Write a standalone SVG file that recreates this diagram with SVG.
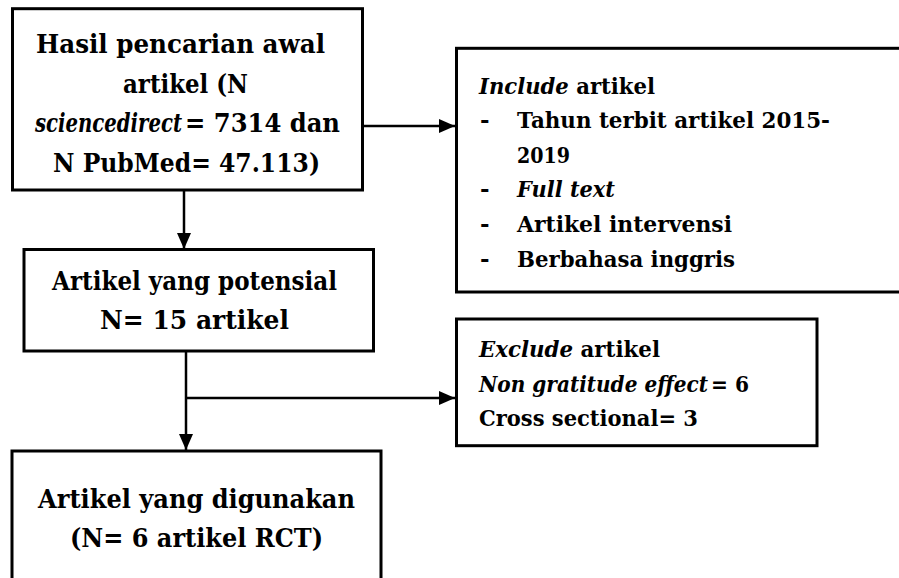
<svg xmlns="http://www.w3.org/2000/svg" width="899" height="578" viewBox="0 0 899 578">
<style>
.box{fill:#fff;stroke:#000;stroke-width:3}
.con{fill:none;stroke:#000;stroke-width:2.5}
.t{font-family:"DejaVu Serif",serif;font-weight:bold;fill:#000}
.big{font-size:26px}
.sm{font-size:23px}
.it{font-style:italic}
</style>
<defs>
<marker id="ah" markerWidth="16" markerHeight="14" refX="16" refY="7" orient="auto" markerUnits="userSpaceOnUse">
<path d="M0,0 L16,7 L0,14 Z" fill="#000"/>
</marker>
</defs>
<g id="connectors">
<line class="con" x1="184" y1="190" x2="184" y2="249" marker-end="url(#ah)"/>
<line class="con" x1="363" y1="126" x2="455" y2="126" marker-end="url(#ah)"/>
<line class="con" x1="186" y1="351" x2="186" y2="450" marker-end="url(#ah)"/>
<line class="con" x1="186" y1="398" x2="455" y2="398" marker-end="url(#ah)"/>
</g>
<g id="node-search">
<rect class="box" x="12.5" y="8.7" width="350" height="181.3"/>
<text class="t big" x="36" y="53" textLength="289" lengthAdjust="spacingAndGlyphs">Hasil pencarian awal</text>
<text class="t big" x="123" y="93" textLength="125" lengthAdjust="spacingAndGlyphs">artikel (N</text>
<text class="t big it" x="35" y="132" textLength="147" lengthAdjust="spacingAndGlyphs">sciencedirect</text>
<text class="t big" x="185" y="132" textLength="155" lengthAdjust="spacingAndGlyphs">= 7314 dan</text>
<text class="t big" x="53" y="172" textLength="267" lengthAdjust="spacingAndGlyphs">N PubMed= 47.113)</text>
</g>
<g id="node-include">
<rect class="box" x="456.5" y="48.3" width="460" height="243.7"/>
<text class="t sm" x="479" y="93.5" textLength="176" lengthAdjust="spacingAndGlyphs"><tspan class="it">Include</tspan> artikel</text>
<text class="t sm" x="480" y="128">-</text>
<text class="t sm" x="517" y="128" textLength="313" lengthAdjust="spacingAndGlyphs">Tahun terbit artikel 2015-</text>
<text class="t sm" x="517" y="162.7" textLength="53" lengthAdjust="spacingAndGlyphs">2019</text>
<text class="t sm" x="480" y="197.3">-</text>
<text class="t sm it" x="517" y="197.3" textLength="98" lengthAdjust="spacingAndGlyphs">Full text</text>
<text class="t sm" x="480" y="232">-</text>
<text class="t sm" x="517" y="232" textLength="215" lengthAdjust="spacingAndGlyphs">Artikel intervensi</text>
<text class="t sm" x="480" y="266.5">-</text>
<text class="t sm" x="517" y="266.5" textLength="218" lengthAdjust="spacingAndGlyphs">Berbahasa inggris</text>
</g>
<g id="node-potential">
<rect class="box" x="24" y="249.5" width="349.5" height="101.5"/>
<text class="t big" x="52" y="290" textLength="285" lengthAdjust="spacingAndGlyphs">Artikel yang potensial</text>
<text class="t big" x="100" y="329" textLength="189" lengthAdjust="spacingAndGlyphs">N= 15 artikel</text>
</g>
<g id="node-exclude">
<rect class="box" x="456.5" y="319" width="360.5" height="126.7"/>
<text class="t sm" x="479" y="357" textLength="181" lengthAdjust="spacingAndGlyphs"><tspan class="it">Exclude</tspan> artikel</text>
<text class="t sm it" x="479" y="391.5" textLength="229" lengthAdjust="spacingAndGlyphs">Non gratitude effect</text>
<text class="t sm" x="711" y="391.5" textLength="38" lengthAdjust="spacingAndGlyphs">= 6</text>
<text class="t sm" x="479" y="426" textLength="219" lengthAdjust="spacingAndGlyphs">Cross sectional= 3</text>
</g>
<g id="node-used">
<rect class="box" x="12" y="451" width="369" height="150"/>
<text class="t big" x="38" y="508" textLength="317" lengthAdjust="spacingAndGlyphs">Artikel yang digunakan</text>
<text class="t big" x="70" y="547" textLength="253" lengthAdjust="spacingAndGlyphs">(N= 6 artikel RCT)</text>
</g>
</svg>
